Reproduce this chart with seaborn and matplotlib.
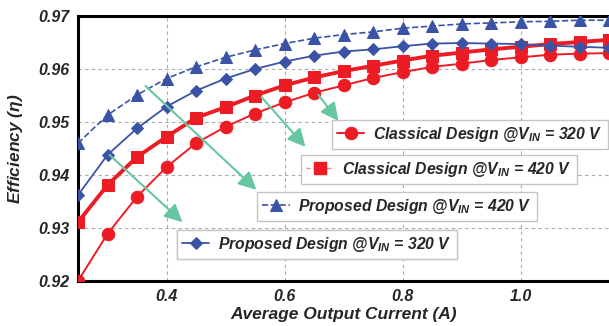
import numpy as np
import pandas as pd
import matplotlib
matplotlib.use("Agg")
import matplotlib.pyplot as plt
import seaborn as sns
from matplotlib.ticker import MultipleLocator, FormatStrFormatter
from matplotlib.lines import Line2D

current = [0.25, 0.30, 0.35, 0.40, 0.45, 0.50, 0.55, 0.60, 0.65, 0.70, 0.75,
           0.80, 0.85, 0.90, 0.95, 1.00, 1.05, 1.10, 1.15]
classical_320 = [0.9200, 0.9289, 0.9359, 0.9415, 0.9460, 0.9491, 0.9516, 0.9537,
                 0.9555, 0.9569, 0.9583, 0.9594, 0.9604, 0.9610, 0.9617, 0.9622,
                 0.9627, 0.9629, 0.9630]
classical_420 = [0.9311, 0.9381, 0.9434, 0.9472, 0.9508, 0.9528, 0.9550, 0.9569,
                 0.9584, 0.9596, 0.9606, 0.9616, 0.9625, 0.9631, 0.9637, 0.9642,
                 0.9647, 0.9651, 0.9655]
proposed_420 = [0.9460, 0.9513, 0.9551, 0.9582, 0.9604, 0.9622, 0.9636, 0.9648,
                0.9658, 0.9665, 0.9670, 0.9677, 0.9681, 0.9685, 0.9687, 0.9689,
                0.9690, 0.9692, 0.9692]
proposed_320 = [0.9362, 0.9438, 0.9488, 0.9529, 0.9559, 0.9582, 0.9600, 0.9614,
                0.9625, 0.9633, 0.9637, 0.9643, 0.9648, 0.9649, 0.9648, 0.9647,
                0.9644, 0.9642, 0.9640]
labels = [r"Classical Design @V$_{IN}$ = 320 V",
          r"Classical Design @V$_{IN}$ = 420 V",
          r"Proposed Design @V$_{IN}$ = 420 V",
          r"Proposed Design @V$_{IN}$ = 320 V"]
x_ticks = [0.4, 0.6, 0.8, 1.0]
y_ticks = [0.92, 0.93, 0.94, 0.95, 0.96, 0.97]

sns.set_theme(style="white")
plt.rcParams['font.family'] = ['Liberation Sans', 'DejaVu Sans']
plt.rcParams['mathtext.fontset'] = 'custom'
plt.rcParams['mathtext.it'] = 'Liberation Sans:bold:italic'
plt.rcParams['mathtext.rm'] = 'Liberation Sans:bold:italic'

RED = '#ED1C24'
BLUE = '#3A53A4'
GREEN = '#66C6A0'

fig = plt.figure(figsize=(6.09, 3.26), dpi=100)
ax = fig.add_axes([78 / 609, 45 / 326, 531 / 609, 265 / 326])

series = [
    (classical_320, labels[0], dict(color=RED, lw=1.4, marker='o', ms=9, ls='-')),
    (classical_420, labels[1], dict(color=RED, lw=2.8, marker='s', ms=9, ls='-')),
    (proposed_420, labels[2], dict(color=BLUE, lw=1.2, marker='^', ms=8, ls='--')),
    (proposed_320, labels[3], dict(color=BLUE, lw=1.3, marker='D', ms=6.5, ls='-')),
]
handles = []
for vals, lab, st in series:
    df = pd.DataFrame({'I': current, 'eta': vals})
    sns.lineplot(data=df, x='I', y='eta', ax=ax, color=st['color'], lw=st['lw'],
                 marker=st['marker'], markersize=st['ms'], linestyle=st['ls'],
                 markeredgecolor=st['color'], label=lab, legend=False, zorder=3,
                 clip_on=True)
    handles.append(ax.lines[-1])

# legend handle for classical 420 is drawn thin, dashed and light in the reference
handles[1] = Line2D([], [], color='#F4868A', lw=1.0, ls=(0, (3, 2)), marker='s',
                    ms=9, markerfacecolor=RED, markeredgecolor=RED)

ax.set_xlim(0.25, 1.15)
ax.set_ylim(0.92, 0.97)
ax.set_xticks(x_ticks)
ax.set_yticks(y_ticks)
ax.xaxis.set_major_formatter(FormatStrFormatter('%.1f'))
ax.yaxis.set_major_formatter(FormatStrFormatter('%.2f'))
ax.xaxis.set_minor_locator(MultipleLocator(0.05))
ax.yaxis.set_minor_locator(MultipleLocator(0.005))
ax.tick_params(which='both', direction='in', color='#999999', length=3, width=1)
ax.tick_params(which='major', labelsize=11.5, pad=6)
for t in ax.get_xticklabels() + ax.get_yticklabels():
    t.set_fontweight('bold')
    t.set_fontstyle('italic')
ax.grid(True, which='major', color='#aaaaaa', ls=(0, (3, 3)), lw=0.8)
for s in ['left', 'bottom', 'top']:
    ax.spines[s].set_color('black')
    ax.spines[s].set_linewidth(2.2)
ax.spines['right'].set_visible(False)

ax.set_xlabel('Average Output Current (A)', fontsize=12.5, fontweight='bold',
              fontstyle='italic', labelpad=2)
ax.set_ylabel(r'Efficiency ($\eta$)', fontsize=12.5, fontweight='bold',
              fontstyle='italic', labelpad=10)

# separate legend boxes
positions = [(0.478, 0.608), (0.420, 0.475), (0.337, 0.336), (0.186, 0.192)]
for h, lab, pos in zip(handles, labels, positions):
    leg = ax.legend([h], [lab], loc='upper left', bbox_to_anchor=pos,
                    borderaxespad=0, fancybox=False, frameon=True,
                    edgecolor='#c4c4c4', framealpha=1, handlelength=1.75,
                    handleheight=1.15, handletextpad=0.55, borderpad=0.33,
                    prop=dict(family='Liberation Sans', weight='bold',
                              style='italic', size=11.3))
    leg.get_frame().set_linewidth(1.0)
    leg.set_zorder(5)
    ax.add_artist(leg)

# arrows
arrows = [((0.6575, 0.9551), (0.6915, 0.9502)),
          ((0.561, 0.9547), (0.6356, 0.9453)),
          ((0.3644, 0.9568), (0.5525, 0.9372)),
          ((0.3034, 0.9438), (0.4271, 0.9311))]
for start, tip in arrows:
    ax.annotate('', xy=tip, xytext=start,
                arrowprops=dict(arrowstyle='-|>,head_length=0.9,head_width=0.45',
                                color=GREEN, lw=1.5, shrinkA=0, shrinkB=0),
                zorder=4)

fig.savefig('out.png', dpi=100)
